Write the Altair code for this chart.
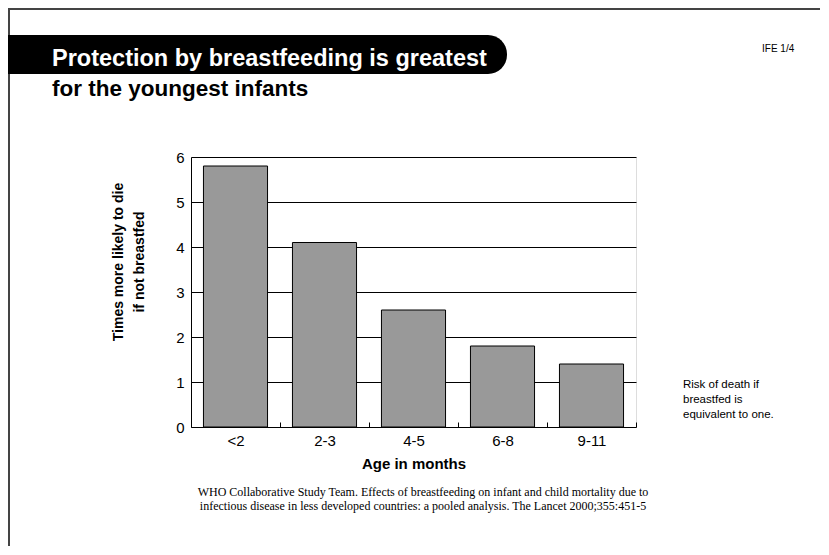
import altair as alt
import pandas as pd

# ---- data ----
ages = ["<2", "2-3", "4-5", "6-8", "9-11"]
times_more_likely = [5.8, 4.1, 2.6, 1.8, 1.4]
y_ticks = [0, 1, 2, 3, 4, 5, 6]

title_line1 = "Protection by breastfeeding is greatest"
title_line2 = "for the youngest infants"
slide_id = "IFE 1/4"
y_title = "Times more likely to die\nif not breastfed"
x_title = "Age in months"
note = "Risk of death if\nbreastfed is\nequivalent to one."
source = ("WHO Collaborative Study Team. Effects of breastfeeding on infant and child mortality due to\n"
          "infectious disease in less developed countries: a pooled analysis. The Lancet 2000;355:451-5")

df = pd.DataFrame({"age": ages, "value": times_more_likely})

SANS = "Liberation Sans"
SERIF = "Liberation Serif"
one = alt.Data(values=[{}])

bars = alt.Chart(df).mark_bar(fill="#999999", stroke="black", strokeWidth=1,
                              width=alt.RelativeBandSize(0.72)).encode(
    x=alt.X("age:N", sort=ages,
            scale=alt.Scale(paddingInner=0, paddingOuter=0),
            axis=alt.Axis(title=x_title, labelAngle=0, domain=False, tickBand="extent",
                          tickSize=5, tickColor="black", offset=-5,
                          labelFont=SANS, labelFontSize=15, labelColor="black", labelPadding=6,
                          titleFont=SANS, titleFontSize=15, titleFontWeight="bold",
                          titleColor="black", titlePadding=8)),
    y=alt.Y("value:Q", scale=alt.Scale(domain=[0, 6], nice=False),
            axis=alt.Axis(title=None, values=y_ticks, ticks=False, domainColor="black",
                          grid=True, gridColor="black", gridOpacity=1, gridWidth=1,
                          labelFont=SANS, labelFontSize=15, labelColor="black",
                          labelPadding=7)),
)

frame_left = alt.Chart(one).mark_rule(color="#444444", strokeWidth=2).encode(
    x=alt.value(-182), y=alt.value(-149), y2=alt.value(400))
frame_top = alt.Chart(one).mark_rule(color="#444444", strokeWidth=2).encode(
    x=alt.value(-183), x2=alt.value(640), y=alt.value(-148))

banner = alt.Chart(one).mark_rect(color="black", cornerRadiusTopRight=19,
                                  cornerRadiusBottomRight=19).encode(
    x=alt.value(-183), x2=alt.value(316), y=alt.value(-122), y2=alt.value(-83))

t1 = alt.Chart(one).mark_text(font=SANS, fontSize=23.5, fontWeight="bold", color="white",
                              align="left", baseline="alphabetic").encode(
    x=alt.value(-139), y=alt.value(-91), text=alt.value(title_line1))
t2 = alt.Chart(one).mark_text(font=SANS, fontSize=22.5, fontWeight="bold", color="black",
                              align="left", baseline="alphabetic").encode(
    x=alt.value(-139), y=alt.value(-61), text=alt.value(title_line2))
tid = alt.Chart(one).mark_text(font=SANS, fontSize=10, color="black",
                               align="left", baseline="alphabetic").encode(
    x=alt.value(571), y=alt.value(-105), text=alt.value(slide_id))

ytitle = alt.Chart(one).mark_text(font=SANS, fontSize=14, fontWeight="bold", color="black",
                                  align="center", baseline="alphabetic", angle=270,
                                  lineBreak="\n", lineHeight=21).encode(
    x=alt.value(-68), y=alt.value(105), text=alt.value(y_title))

note_txt = alt.Chart(one).mark_text(font=SANS, fontSize=11.5, color="black",
                                    align="left", baseline="alphabetic",
                                    lineBreak="\n", lineHeight=15).encode(
    x=alt.value(492), y=alt.value(231), text=alt.value(note))

src_txt = alt.Chart(one).mark_text(font=SERIF, fontSize=12, color="black",
                                   align="center", baseline="alphabetic",
                                   lineBreak="\n", lineHeight=13.5).encode(
    x=alt.value(232), y=alt.value(339), text=alt.value(source))

chart = alt.layer(
    bars, frame_left, frame_top, banner, t1, t2, tid, ytitle, note_txt, src_txt
).properties(
    width=445, height=270, autosize="none",
    padding={"left": 183, "top": 149, "right": 184, "bottom": 119},
).configure_view(strokeWidth=0).configure(background="white")

chart.save("out.html", embed_options={"renderer": "svg", "actions": False})
